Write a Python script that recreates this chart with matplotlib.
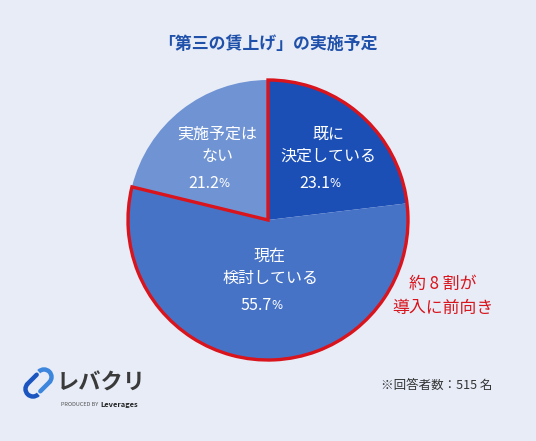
import numpy as np
import matplotlib
matplotlib.use("Agg")
from matplotlib import pyplot as plt
from matplotlib.patches import Wedge, Arc

plt.rcParams['font.family'] = ['Noto Sans CJK JP', 'DejaVu Sans']

# data
labels = ['既に\n決定している', '現在\n検討している', '実施予定は\nない']
values = [23.1, 55.7, 21.2]
colors = ['#1B4FB6', '#4773C7', '#7094D3']
title = '「第三の賃上げ」の実施予定'
note = '※回答者数：515 名'
callout = '約 8 割が\n導入に前向き'

W, H = 536, 441
bg = '#E7ECF7'
red = '#D9141C'

fig = plt.figure(figsize=(W / 100, H / 100), dpi=100, facecolor=bg)
ax = fig.add_axes([0, 0, 1, 1])
ax.set_facecolor(bg)

cx, cy, r = 268, H - 220, 140

wedges, _ = ax.pie(values, colors=colors, startangle=90, counterclock=False,
                   center=(cx, cy), radius=r, wedgeprops=dict(linewidth=0))

# red outline around the first two slices (the "positive" group)
pos_share = (values[0] + values[1]) / sum(values)
theta_start = (90 - 360 * pos_share) % 360
ax.add_patch(Wedge((cx, cy), r, theta_start, 450,
                   fill=False, edgecolor=red, linewidth=2.4, joinstyle='miter', zorder=5))

ax.set_xlim(0, W)
ax.set_ylim(0, H)
ax.set_aspect('equal')
ax.axis('off')


def pct(x, y, v):
    ax.text(x + 8, y, f'{v}', ha='right', va='center', color='white', fontsize=11.5)
    ax.text(x + 7, y - 0.5, '%', ha='left', va='center', color='white', fontsize=8.5,
            family='DejaVu Sans')


# label positions (image px)
label_pos = [(328, 145), (270, 267), (217, 145)]
pct_pos = [(322, 183), (264, 305), (211, 183)]
for lab, (lx, ly), (px, py), v in zip(labels, label_pos, pct_pos, values):
    ax.text(lx, H - ly, lab, ha='center', va='center', color='white',
            fontsize=11.5, linespacing=1.4)
    pct(px, H - py, v)

ax.text(268, H - 44, title, ha='center', va='center', color='#1F50AA',
        fontsize=12.2, fontweight='bold')

ax.text(443, H - 296, callout, ha='center', va='center', color=red,
        fontsize=12.2, linespacing=1.45)

ax.text(492, H - 385, note, ha='right', va='center', color='#333333', fontsize=9)

# logo
ax.add_patch(Arc((44, H - 377), 15, 15, theta1=-45, theta2=135,
                 color='#3D86DD', linewidth=3.2))
ax.plot([44 + 5.3, 44 + 5.3 - 9], [H - 377 - 5.3, H - 377 - 5.3 - 9],
        color='#3D86DD', linewidth=3.2, solid_capstyle='round')
ax.add_patch(Arc((33, H - 389), 15, 15, theta1=135, theta2=315,
                 color='#1B56C0', linewidth=3.2))
ax.plot([33 - 5.3, 33 - 5.3 + 9], [H - 389 + 5.3, H - 389 + 5.3 + 9],
        color='#1B56C0', linewidth=3.2, solid_capstyle='round')
ax.text(57, H - 383, 'レバクリ', ha='left', va='center', color='#3A3A3A',
        fontsize=16, fontweight='bold')
ax.text(98, H - 405, 'PRODUCED BY', ha='right', va='center', color='#555555', fontsize=4)
ax.text(100, H - 405, 'Leverages', ha='left', va='center', color='#222222',
        fontsize=5.4, fontweight='bold')

fig.savefig('out.png', dpi=100, facecolor=bg)
